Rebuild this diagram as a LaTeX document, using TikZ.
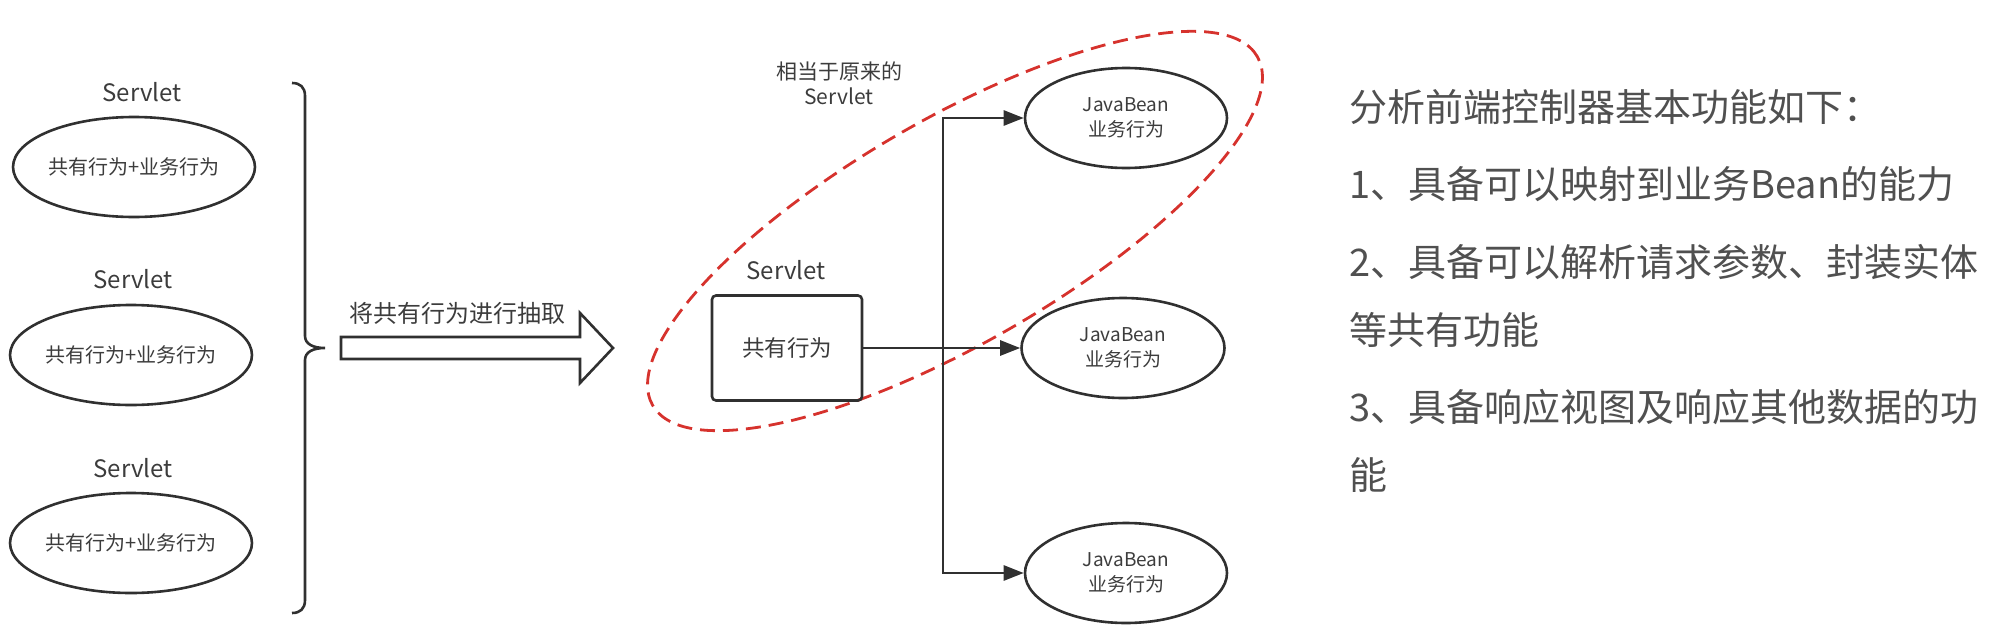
\documentclass[tikz,border=0pt]{standalone}
\usepackage{fontspec}
\setmainfont{Noto Sans CJK SC}
\usetikzlibrary{shapes.geometric,arrows.meta}
\definecolor{ink}{RGB}{48,48,48}
\definecolor{txt}{RGB}{60,60,60}
\definecolor{rtxt}{RGB}{80,80,80}
\definecolor{dashred}{RGB}{214,50,45}
\begin{document}
\begin{tikzpicture}[x=1pt,y=-1pt,
  oval/.style={draw=ink,line width=2.6pt,ellipse,inner sep=0pt,text=txt,align=center},
  lbl/.style={text=txt,inner sep=0pt,align=center},
  conn/.style={draw=ink,line width=2.6pt,-{Triangle[length=20pt,width=15pt]}},
  rline/.style={anchor=base west,inner sep=0pt,text=rtxt,font=\fontsize{38}{44}\selectfont}]
\useasboundingbox (0,0) rectangle (1996,642);
% left servlets
\node[lbl,font=\fontsize{24}{28}\selectfont] (sl1) at (142,92) {Servlet};
\node[oval,minimum width=204pt,minimum height=100pt,font=\fontsize{20}{24}\selectfont] (s1) at (134,167) {共有行为+业务行为};
\node[lbl,font=\fontsize{24}{28}\selectfont] (sl2) at (133,279) {Servlet};
\node[oval,minimum width=204pt,minimum height=100pt,font=\fontsize{20}{24}\selectfont] (s2) at (131,355) {共有行为+业务行为};
\node[lbl,font=\fontsize{24}{28}\selectfont] (sl3) at (133,468) {Servlet};
\node[oval,minimum width=204pt,minimum height=100pt,font=\fontsize{20}{24}\selectfont] (s3) at (131,543) {共有行为+业务行为};
% brace
\draw[ink,line width=2.6pt] (292,83) .. controls (300,83) and (305,87) .. (305,96) -- (305,336)
  .. controls (305,344) and (313,348) .. (325,348)
  .. controls (313,348) and (305,352) .. (305,360) -- (305,600)
  .. controls (305,609) and (300,613) .. (292,613);
% block arrow
\draw[ink,line width=2.6pt,fill=white] (341,337) -- (580,337) -- (580,313) -- (613,348) -- (580,383) -- (580,359) -- (341,359) -- cycle;
\node[lbl,font=\fontsize{24}{28}\selectfont] (abs) at (457,313) {将共有行为进行抽取};
% dashed ellipse
\draw[dashred,line width=2.8pt,dash pattern=on 15pt off 8pt,rotate around={30:(955,231)}] (955,231) ellipse [x radius=349pt,y radius=112pt];
\node[lbl,font=\fontsize{21}{25}\selectfont] (orig) at (839,83) {相当于原来的\\Servlet};
% front servlet box
\node[lbl,font=\fontsize{24}{28}\selectfont] (fsl) at (786,270) {Servlet};
\node[draw=ink,line width=2.6pt,rounded corners=4pt,minimum width=150pt,minimum height=105pt,inner sep=0pt,text=txt,font=\fontsize{22.5}{26}\selectfont] (box) at (787,348) {共有行为};
% javabeans
\node[oval,minimum width=202pt,minimum height=100pt,font=\fontsize{19}{25}\selectfont] (jb1) at (1126,118) {JavaBean\\业务行为};
\node[oval,minimum width=203pt,minimum height=100pt,font=\fontsize{19}{25}\selectfont] (jb2) at (1123,348) {JavaBean\\业务行为};
\node[oval,minimum width=202pt,minimum height=100pt,font=\fontsize{19}{25}\selectfont] (jb3) at (1126,573) {JavaBean\\业务行为};
\coordinate (j) at (943,348);
\draw[conn] (box.east) -- (jb2.west);
\draw[conn] (j) |- (jb1.west);
\draw[conn] (j) |- (jb3.west);
% right text
\node[rline] (t1) at (1349,121.5) {分析前端控制器基本功能如下：};
\node[rline] (t2) at (1349,198.5) {1、具备可以映射到业务Bean的能力};
\node[rline] (t3) at (1349,276.5) {2、具备可以解析请求参数、封装实体};
\node[rline] (t4) at (1349,344.5) {等共有功能};
\node[rline] (t5) at (1349,421.5) {3、具备响应视图及响应其他数据的功};
\node[rline] (t6) at (1349,489.5) {能};
\end{tikzpicture}
\end{document}
